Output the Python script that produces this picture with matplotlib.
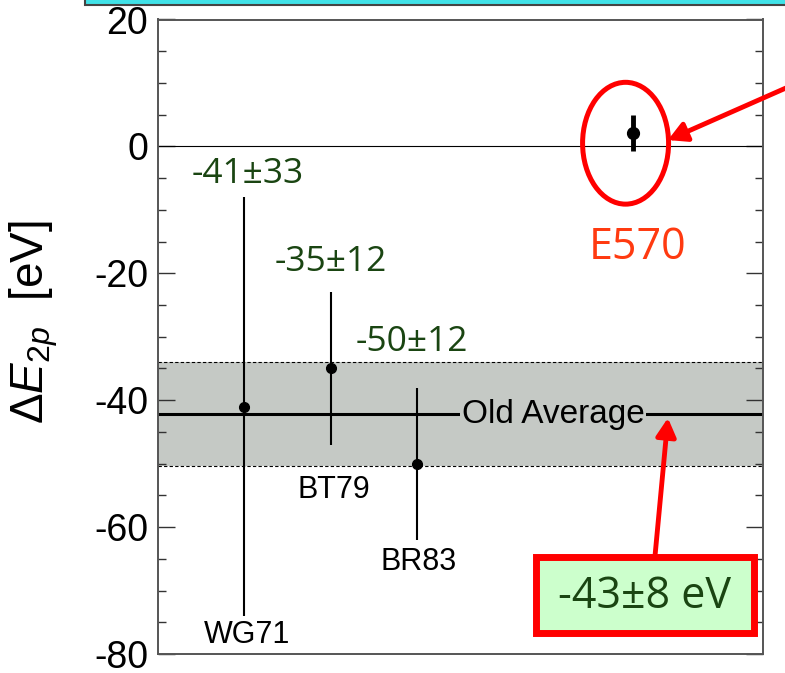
import matplotlib
matplotlib.use("Agg")
import matplotlib.pyplot as plt
from matplotlib.patches import Ellipse, Rectangle

plt.rcParams['font.family'] = ['Liberation Sans', 'DejaVu Sans']
plt.rcParams['axes.unicode_minus'] = False
plt.rcParams['mathtext.fontset'] = 'custom'
plt.rcParams['mathtext.rm'] = 'Liberation Sans'
plt.rcParams['mathtext.it'] = 'Liberation Sans:italic'

# measurements of the 2p shift
names = ['WG71', 'BT79', 'BR83', 'E570']
xpos = [1, 2, 3, 5.5]
values = [-41, -35, -50, 2.1]
errors = [33, 12, 12, 2.9]
value_text = ['-41±33', '-35±12', '-50±12']

# old average band
avg_center = -42.2
avg_half = 8.2
avg_text = '-43±8 eV'

yticks_major = [20, 0, -20, -40, -60, -80]

W, H = 785, 673
GREEN_TXT = '#1a4512'


def fpx(x, y):
    """pixel (from top-left) -> figure fraction"""
    return x / W, 1 - y / H


fig = plt.figure(figsize=(W / 100, H / 100), dpi=100)
ax = fig.add_axes([158 / W, 1 - 654 / H, 605 / W, 634.5 / H])
ax.set_xlim(0, 7)
ax.set_ylim(-80, 20)

# band + average line
ax.axhspan(avg_center - avg_half, avg_center + avg_half, color='#c5c9c5', zorder=1, lw=0)
for yy in (avg_center - avg_half, avg_center + avg_half):
    ax.axhline(yy, color='k', lw=0.8, ls=(0, (3, 2)), zorder=1.5)
ax.axhline(avg_center, color='k', lw=2.2, zorder=2)
ax.axhline(0, color='k', lw=0.8, zorder=2)
ax.text(4.57, avg_center, 'Old Average', fontsize=24, ha='center', va='center', zorder=2.5,
        bbox=dict(facecolor='#c5c9c5', edgecolor='none', pad=1.5))

# old measurements
ax.errorbar(xpos[:3], values[:3], yerr=errors[:3], fmt='o', color='k', ms=7,
            elinewidth=1.5, capsize=0, zorder=3)
# E570
ax.errorbar(xpos[3:], values[3:], yerr=errors[3:], fmt='o', color='k', ms=8.5,
            elinewidth=3.5, capsize=0, zorder=3)

# value labels
num_pos = [(1.04, -4.4), (2.0, -18.2), (2.94, -30.8)]
for (tx, ty), t in zip(num_pos, value_text):
    ax.text(tx, ty, t, fontsize=25.5, family=['Open Sans', 'DejaVu Sans'],
            color=GREEN_TXT, ha='center', va='center')

name_pos = [(1.03, -77.0), (2.04, -54.2), (3.01, -65.5)]
for (tx, ty), t in zip(name_pos, names[:3]):
    ax.text(tx, ty, t, fontsize=22, ha='center', va='center')
ax.text(5.55, -16.0, names[3], fontsize=31, family=['Open Sans', 'DejaVu Sans'],
        color='#ff3a10', ha='center', va='center')

ax.add_patch(Ellipse((5.41, 0.5), 0.995, 19.2, fill=False, edgecolor='red', lw=3.6, zorder=4))

# axes styling
ax.set_xticks([])
ax.set_yticks(yticks_major)
ax.set_yticks(range(-80, 21, 5), minor=True)
ax.tick_params(axis='y', which='both', direction='in', left=True, right=True, colors='#333333',
               labelcolor='k', labelsize=27, pad=7)
ax.tick_params(axis='y', which='major', length=12, width=1)
ax.tick_params(axis='y', which='minor', length=5.5, width=1)
for s in ax.spines.values():
    s.set_color('#555555')
    s.set_linewidth(1.4)
ax.set_ylabel(r'$\Delta E_{2p}$  [eV]', fontsize=33)
ax.yaxis.set_label_coords((60 - 158) / 605, (654 - 322) / 634.5)

# arrows
arrow_kw = dict(arrowstyle='-|>,head_length=0.55,head_width=0.3', color='red', lw=3.5,
                shrinkA=0, shrinkB=0, mutation_scale=20)
ax.annotate('', xy=(5.90, 1.0), xycoords='data', xytext=(795, H - 84),
            textcoords='figure pixels', arrowprops=arrow_kw, annotation_clip=False)
ax.annotate('', xy=(5.90, -42.8), xycoords='data', xytext=(655, H - 556),
            textcoords='figure pixels', arrowprops=arrow_kw, annotation_clip=False)

# result box
x0, y1 = fpx(535.5, 632.5)
fig.add_artist(Rectangle((x0, y1), 218 / W, 76 / H, transform=fig.transFigure,
                         facecolor='#ccffcc', edgecolor='red', lw=5, zorder=5))
bx, by = fpx(645, 597)
fig.text(bx, by, avg_text, fontsize=31, family=['Open Sans', 'DejaVu Sans'],
         color=GREEN_TXT, ha='center', va='center', zorder=6)

# cyan title box edge at the top
cx, cy = fpx(85, 5)
fig.add_artist(Rectangle((cx, cy), 1, 0.1, transform=fig.transFigure,
                         facecolor='#40e2e8', edgecolor='#444444', lw=1.5, clip_on=False))

fig.savefig('out.png', dpi=100)
